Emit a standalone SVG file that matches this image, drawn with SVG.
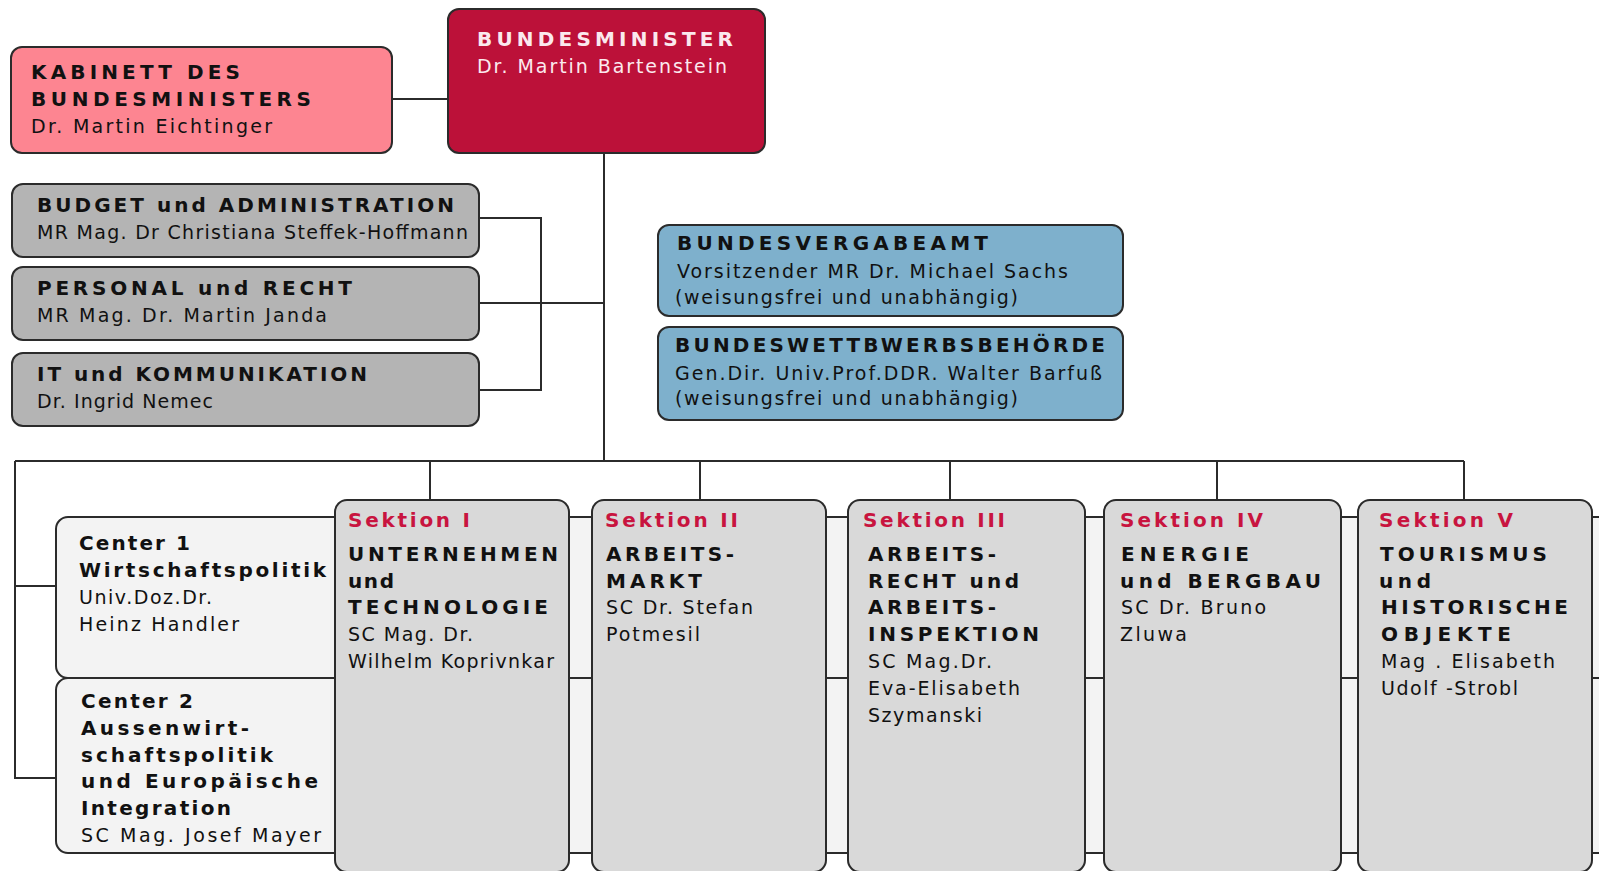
<svg xmlns="http://www.w3.org/2000/svg" width="1599" height="871" viewBox="0 0 1599 871">
<style>
.box{stroke:#2b2b2b;stroke-width:2}
.kab{fill:#fd8591}
.bm{fill:#bc1139}
.gray{fill:#b4b4b4}
.blue{fill:#7eb0cc}
.row{fill:#f3f3f3}
.sec{fill:#d9d9d9}
.b{font-family:"DejaVu Sans","Liberation Sans",sans-serif;font-weight:bold;font-size:20px;fill:#111}
.r{font-family:"DejaVu Sans","Liberation Sans",sans-serif;font-size:19px;fill:#111}
.w{fill:#fbe9ee}
.red{fill:#c8143f}
.con{stroke:#2b2b2b;stroke-width:2;fill:none}
</style>
<rect width="1599" height="871" fill="#ffffff"/>
<g id="connectors" class="con">
<line x1="392" y1="99" x2="448" y2="99"/>
<line x1="604" y1="153" x2="604" y2="461"/>
<polyline points="479,218 541,218 541,390 479,390"/>
<line x1="479" y1="303" x2="604" y2="303"/>
<line x1="15" y1="461" x2="1464" y2="461"/>
<line x1="430" y1="461" x2="430" y2="500"/>
<line x1="700" y1="461" x2="700" y2="500"/>
<line x1="950" y1="461" x2="950" y2="500"/>
<line x1="1217" y1="461" x2="1217" y2="500"/>
<line x1="1464" y1="461" x2="1464" y2="500"/>
<polyline points="15,461 15,778 56,778"/>
<line x1="15" y1="586" x2="56" y2="586"/>
</g>
<g id="kabinett">
<rect class="box kab" x="11" y="47" width="381" height="106" rx="11"/>
<text class="b" x="31" y="79" textLength="209" lengthAdjust="spacing">KABINETT DES</text>
<text class="b" x="31" y="106" textLength="280" lengthAdjust="spacing">BUNDESMINISTERS</text>
<text class="r" x="31" y="133" textLength="241" lengthAdjust="spacing">Dr. Martin Eichtinger</text>
</g>
<g id="bundesminister">
<rect class="box bm" x="448" y="9" width="317" height="144" rx="11"/>
<text class="b w" x="477" y="46" textLength="256" lengthAdjust="spacing">BUNDESMINISTER</text>
<text class="r w" x="477" y="73" textLength="250" lengthAdjust="spacing">Dr. Martin Bartenstein</text>
</g>
<g id="budget">
<rect class="box gray" x="12" y="184" width="467" height="73" rx="11"/>
<text class="b" x="37" y="212" textLength="417" lengthAdjust="spacing">BUDGET und ADMINISTRATION</text>
<text class="r" x="37" y="239" textLength="431" lengthAdjust="spacing">MR Mag. Dr Christiana Steffek-Hoffmann</text>
</g>
<g id="personal">
<rect class="box gray" x="12" y="267" width="467" height="73" rx="11"/>
<text class="b" x="37" y="295" textLength="315" lengthAdjust="spacing">PERSONAL und RECHT</text>
<text class="r" x="37" y="322" textLength="290" lengthAdjust="spacing">MR Mag. Dr. Martin Janda</text>
</g>
<g id="it">
<rect class="box gray" x="12" y="353" width="467" height="73" rx="11"/>
<text class="b" x="37" y="381" textLength="330" lengthAdjust="spacing">IT und KOMMUNIKATION</text>
<text class="r" x="37" y="408" textLength="176" lengthAdjust="spacing">Dr. Ingrid Nemec</text>
</g>
<g id="bundesvergabeamt">
<rect class="box blue" x="658" y="225" width="465" height="91" rx="11"/>
<text class="b" x="677" y="250" textLength="311" lengthAdjust="spacing">BUNDESVERGABEAMT</text>
<text class="r" x="677" y="278" textLength="391" lengthAdjust="spacing">Vorsitzender MR Dr. Michael Sachs</text>
<text class="r" x="675" y="304" textLength="343" lengthAdjust="spacing">(weisungsfrei und unabhängig)</text>
</g>
<g id="bundeswettbewerbsbehoerde">
<rect class="box blue" x="658" y="327" width="465" height="93" rx="11"/>
<text class="b" x="675" y="352" textLength="430" lengthAdjust="spacing">BUNDESWETTBWERBSBEHÖRDE</text>
<text class="r" x="675" y="380" textLength="427" lengthAdjust="spacing">Gen.Dir. Univ.Prof.DDR. Walter Barfuß</text>
<text class="r" x="675" y="405" textLength="343" lengthAdjust="spacing">(weisungsfrei und unabhängig)</text>
</g>
<g id="center1">
<rect class="box row" x="56" y="517" width="1600" height="161" rx="12"/>
<text class="b" x="79" y="550" textLength="111" lengthAdjust="spacing">Center 1</text>
<text class="b" x="79" y="577" textLength="247" lengthAdjust="spacing">Wirtschaftspolitik</text>
<text class="r" x="79" y="604" textLength="133" lengthAdjust="spacing">Univ.Doz.Dr.</text>
<text class="r" x="79" y="631" textLength="160" lengthAdjust="spacing">Heinz Handler</text>
</g>
<g id="center2">
<rect class="box row" x="56" y="678" width="1600" height="175" rx="12"/>
<text class="b" x="81" y="708" textLength="112" lengthAdjust="spacing">Center 2</text>
<text class="b" x="81" y="735" textLength="168" lengthAdjust="spacing">Aussenwirt-</text>
<text class="b" x="81" y="762" textLength="192" lengthAdjust="spacing">schaftspolitik</text>
<text class="b" x="81" y="788" textLength="237" lengthAdjust="spacing">und Europäische</text>
<text class="b" x="81" y="815" textLength="150" lengthAdjust="spacing">Integration</text>
<text class="r" x="81" y="842" textLength="240" lengthAdjust="spacing">SC Mag. Josef Mayer</text>
</g>
<g id="sektion1">
<rect class="box sec" x="335" y="500" width="234" height="372" rx="12"/>
<text class="b red" x="348" y="527" textLength="122" lengthAdjust="spacing">Sektion I</text>
<text class="b" x="348" y="561" textLength="210" lengthAdjust="spacing">UNTERNEHMEN</text>
<text class="b" x="348" y="588" textLength="46" lengthAdjust="spacing">und</text>
<text class="b" x="348" y="614" textLength="200" lengthAdjust="spacing">TECHNOLOGIE</text>
<text class="r" x="348" y="641" textLength="125" lengthAdjust="spacing">SC Mag. Dr.</text>
<text class="r" x="348" y="668" textLength="206" lengthAdjust="spacing">Wilhelm Koprivnkar</text>
</g>
<g id="sektion2">
<rect class="box sec" x="592" y="500" width="234" height="372" rx="12"/>
<text class="b red" x="605" y="527" textLength="133" lengthAdjust="spacing">Sektion II</text>
<text class="b" x="606" y="561" textLength="128" lengthAdjust="spacing">ARBEITS-</text>
<text class="b" x="606" y="588" textLength="96" lengthAdjust="spacing">MARKT</text>
<text class="r" x="606" y="614" textLength="147" lengthAdjust="spacing">SC Dr. Stefan</text>
<text class="r" x="606" y="641" textLength="94" lengthAdjust="spacing">Potmesil</text>
</g>
<g id="sektion3">
<rect class="box sec" x="848" y="500" width="237" height="372" rx="12"/>
<text class="b red" x="863" y="527" textLength="142" lengthAdjust="spacing">Sektion III</text>
<text class="b" x="868" y="561" textLength="128" lengthAdjust="spacing">ARBEITS-</text>
<text class="b" x="868" y="588" textLength="151" lengthAdjust="spacing">RECHT und</text>
<text class="b" x="868" y="614" textLength="128" lengthAdjust="spacing">ARBEITS-</text>
<text class="b" x="868" y="641" textLength="171" lengthAdjust="spacing">INSPEKTION</text>
<text class="r" x="868" y="668" textLength="124" lengthAdjust="spacing">SC Mag.Dr.</text>
<text class="r" x="868" y="695" textLength="152" lengthAdjust="spacing">Eva-Elisabeth</text>
<text class="r" x="868" y="722" textLength="114" lengthAdjust="spacing">Szymanski</text>
</g>
<g id="sektion4">
<rect class="box sec" x="1104" y="500" width="237" height="372" rx="12"/>
<text class="b red" x="1120" y="527" textLength="143" lengthAdjust="spacing">Sektion IV</text>
<text class="b" x="1121" y="561" textLength="128" lengthAdjust="spacing">ENERGIE</text>
<text class="b" x="1120" y="588" textLength="201" lengthAdjust="spacing">und BERGBAU</text>
<text class="r" x="1121" y="614" textLength="145" lengthAdjust="spacing">SC Dr. Bruno</text>
<text class="r" x="1120" y="641" textLength="67" lengthAdjust="spacing">Zluwa</text>
</g>
<g id="sektion5">
<rect class="box sec" x="1358" y="500" width="234" height="372" rx="12"/>
<text class="b red" x="1379" y="527" textLength="134" lengthAdjust="spacing">Sektion V</text>
<text class="b" x="1380" y="561" textLength="167" lengthAdjust="spacing">TOURISMUS</text>
<text class="b" x="1379" y="588" textLength="52" lengthAdjust="spacing">und</text>
<text class="b" x="1381" y="614" textLength="187" lengthAdjust="spacing">HISTORISCHE</text>
<text class="b" x="1381" y="641" textLength="130" lengthAdjust="spacing">OBJEKTE</text>
<text class="r" x="1381" y="668" textLength="174" lengthAdjust="spacing">Mag . Elisabeth</text>
<text class="r" x="1381" y="695" textLength="137" lengthAdjust="spacing">Udolf -Strobl</text>
</g>
</svg>
